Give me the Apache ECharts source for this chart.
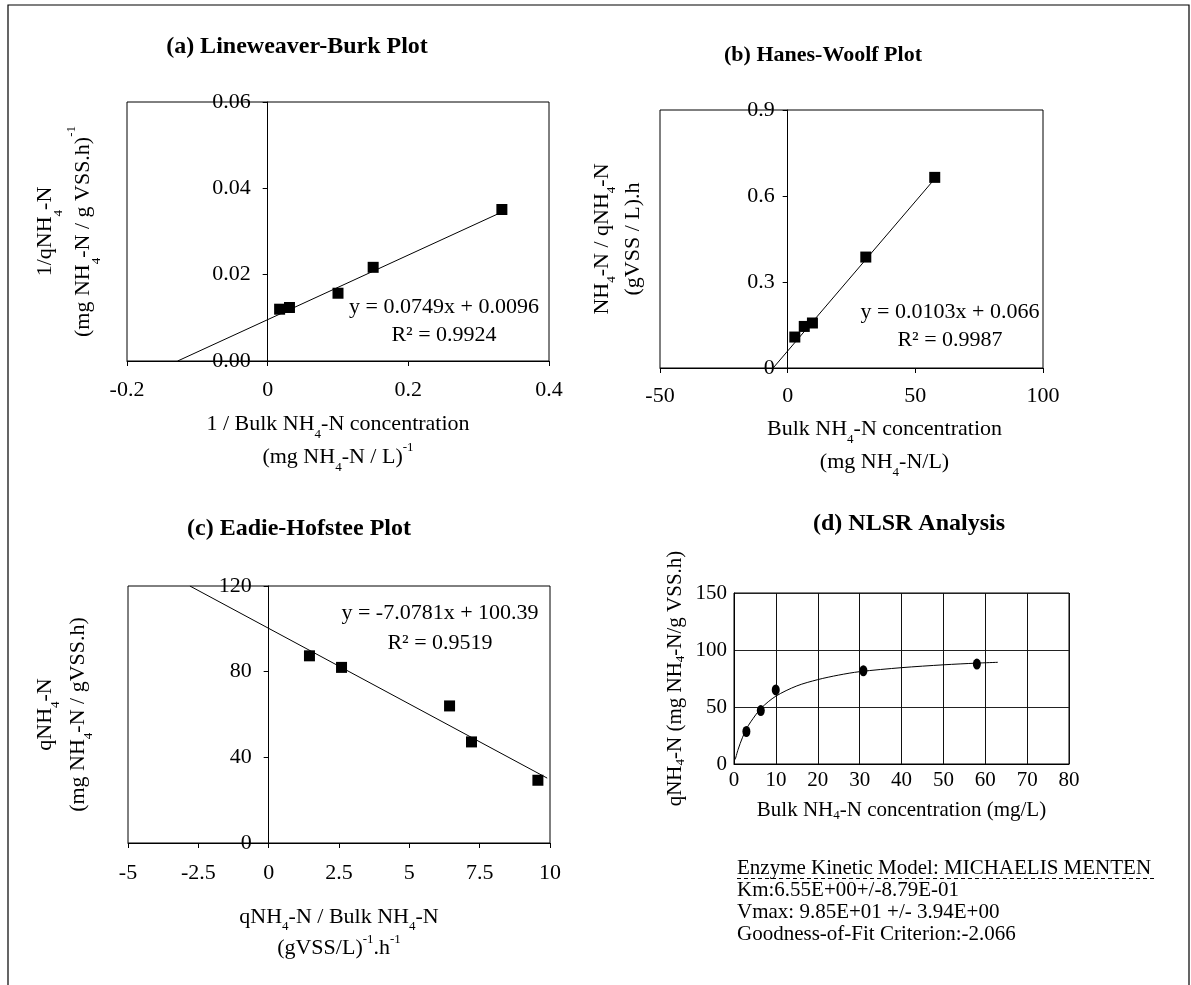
<!DOCTYPE html>
<html><head><meta charset="utf-8">
<script src="https://cdn.jsdelivr.net/npm/echarts@6/dist/echarts.min.js"></script>
<style>html,body{margin:0;padding:0;background:#fff;}#c{width:1191px;height:985px;}</style>
</head><body><div id="c"></div>
<script>
const FONT = "'Liberation Serif', 'Times New Roman', serif";

// (a) Lineweaver-Burk
const lbX = [0.017, 0.031, 0.100, 0.150, 0.333];
const lbY = [0.0120, 0.0124, 0.0157, 0.0217, 0.0351];
const lbFitX = [-0.128, 0.333];
const lbFitY = [0, 0.0345];
const ticksAX = ['-0.2', '0', '0.2', '0.4'];
const ticksAY = ['0.00', '0.02', '0.04', '0.06'];

// (b) Hanes-Woolf
const hwX = [2.8, 6.5, 9.7, 30.6, 57.6];
const hwY = [0.108, 0.145, 0.157, 0.387, 0.665];
const hwFitX = [-5.7, 57.6];
const hwFitY = [0, 0.660];
const ticksBX = ['-50', '0', '50', '100'];
const ticksBY = ['0', '0.3', '0.6', '0.9'];

// (c) Eadie-Hofstee
const ehX = [1.45, 2.59, 6.43, 7.21, 9.57];
const ehY = [87.4, 82.0, 64.0, 47.2, 29.3];
const ehFitX = [-2.8, 9.9];
const ehFitY = [120, 30.3];
const ticksCX = ['-5', '-2.5', '0', '2.5', '5', '7.5', '10'];
const ticksCY = ['0', '40', '80', '120'];

// (d) NLSR
const nlX = [2.96, 6.4, 9.97, 30.9, 58.0];
const nlY = [28.5, 46.9, 65.0, 81.8, 87.7];
const nlCurveX = [0.3, 1, 2, 3, 4, 6.5, 10, 15, 20, 25, 30, 40, 50, 58, 63];
const nlCurveY = [4, 13, 23, 31, 37, 49, 59.5, 68.5, 74, 78, 81, 84.5, 87, 88.5, 89.2];
const ticksDX = ['0', '10', '20', '30', '40', '50', '60', '70', '80'];
const ticksDY = ['0', '50', '100', '150'];

const zip = (a, b) => a.map((v, i) => [v, b[i]]);
const lab = (arr, min, step) => v => { const i = Math.round((v - min) / step); return arr[i] !== undefined ? arr[i] : ''; };
function rt(lh, subOff, supOff) {
  subOff = subOff || 8; supOff = supOff || 7;
  return {
    sub: { fontSize: 13, fontFamily: FONT, color: '#000', lineHeight: lh - 2 * subOff, verticalAlign: 'bottom' },
    sup: { fontSize: 13, fontFamily: FONT, color: '#000', lineHeight: lh - 2 * supOff, verticalAlign: 'top' }
  };
}
const black = { color: '#000', opacity: 1 };

const gridStyle = { show: true, borderColor: '#000', borderWidth: 1, backgroundColor: '#fff', containLabel: false, outerBoundsMode: 'none' };
const grids = [
  Object.assign({ left: 127, top: 102, width: 422, height: 259 }, gridStyle),
  Object.assign({ left: 660, top: 110, width: 383, height: 258 }, gridStyle),
  Object.assign({ left: 128, top: 586, width: 422, height: 257 }, gridStyle),
  Object.assign({ left: 734, top: 593, width: 335, height: 171 }, gridStyle)
];

function axisBase(gi, min, max, interval, ticks, margin, fs) {
  return {
    gridIndex: gi, type: 'value', min: min, max: max, interval: interval,
    axisLine: { show: true, onZero: false, lineStyle: { color: '#000', width: 1 } },
    axisTick: { show: true, length: 5, lineStyle: { color: '#000' } },
    splitLine: { show: false },
    axisLabel: { margin: margin, fontSize: fs, fontFamily: FONT, color: '#000', formatter: lab(ticks, min, interval) },
    nameLocation: 'middle', nameMoveOverlap: false
  };
}
function nameStyle(fs, lh, rich, padding) {
  const s = { fontSize: fs, fontFamily: FONT, color: '#000', lineHeight: lh, rich: rich };
  if (padding) s.padding = padding;
  return s;
}
// y axis crosses the x axis at x = 0
function zeroOffset(gi, xmin, xmax) {
  return -grids[gi].width * (0 - xmin) / (xmax - xmin);
}

const xA = Object.assign(axisBase(0, -0.2, 0.4, 0.2, ticksAX, 18, 22), {
  name: '1 / Bulk NH{sub|4}-N concentration\n(mg NH{sub|4}-N / L){sup|-1}', nameGap: 47,
  nameTextStyle: nameStyle(22, 33, rt(33))
});
const yA = Object.assign(axisBase(0, 0, 0.06, 0.02, ticksAY, 17, 22), {
  offset: zeroOffset(0, -0.2, 0.4),
  name: '1/qNH{sub|4}-N\n(mg NH{sub|4}-N / g VSS.h){sup|-1}', nameRotate: 90, nameGap: 165,
  nameTextStyle: nameStyle(22, 38, rt(38))
});
const xB = Object.assign(axisBase(1, -50, 100, 50, ticksBX, 17, 22), {
  name: 'Bulk NH{sub|4}-N concentration\n(mg NH{sub|4}-N/L)', nameGap: 45,
  nameTextStyle: nameStyle(22, 33, rt(33), [0, 0, 0, 66])
});
const yB = Object.assign(axisBase(1, 0, 0.9, 0.3, ticksBY, 13, 22), {
  offset: zeroOffset(1, -50, 100),
  name: 'NH{sub|4}-N / qNH{sub|4}-N\n(gVSS / L).h', nameRotate: 90, nameGap: 139,
  nameTextStyle: nameStyle(22, 31, rt(31))
});
const xC = Object.assign(axisBase(2, -5, 10, 2.5, ticksCX, 19, 22), {
  name: 'qNH{sub|4}-N / Bulk NH{sub|4}-N\n(gVSS/L){sup|-1}.h{sup|-1}', nameGap: 59,
  nameTextStyle: nameStyle(22, 31, rt(31))
});
const yC = Object.assign(axisBase(2, 0, 120, 40, ticksCY, 17, 22), {
  offset: zeroOffset(2, -5, 10),
  name: 'qNH{sub|4}-N\n(mg NH{sub|4}-N / gVSS.h)', nameRotate: 90, nameGap: 174,
  nameTextStyle: nameStyle(22, 33, rt(33))
});
const xD = Object.assign(axisBase(3, 0, 80, 10, ticksDX, 6, 21), {
  name: 'Bulk NH{sub|4}-N concentration (mg/L)', nameGap: 34,
  nameTextStyle: nameStyle(21, 24, rt(24, 5, 6))
});
xD.axisTick = { show: false };
xD.splitLine = { show: true, lineStyle: { color: '#111', width: 1 } };
const yD = Object.assign(axisBase(3, 0, 150, 50, ticksDY, 7, 21), {
  name: 'qNH{sub|4}-N (mg NH{sub|4}-N/g VSS.h)', nameRotate: 90, nameGap: 47,
  nameTextStyle: nameStyle(21, 24, rt(24, 5, 6))
});
yD.axisTick = { show: false };
yD.splitLine = { show: true, lineStyle: { color: '#222', width: 1 } };

function sq(i, x, y) {
  return { type: 'scatter', xAxisIndex: i, yAxisIndex: i, data: zip(x, y), symbol: 'rect', symbolSize: 11, itemStyle: black, z: 5 };
}
function fit(i, x, y, smooth) {
  return { type: 'line', xAxisIndex: i, yAxisIndex: i, data: zip(x, y), symbol: 'none', smooth: smooth || false,
    lineStyle: { color: '#000', width: 1 }, z: 3 };
}

function txt(x, y, text, size, weight, align) {
  const a = align || 'center';
  return { type: 'text', x: x, y: y, silent: true, z: 10,
    style: { text: text, font: (weight || 'normal') + ' ' + size + 'px ' + FONT, fill: '#000',
      align: a, verticalAlign: 'middle', textAlign: a, textVerticalAlign: 'middle' } };
}

const graphics = [
  { type: 'rect', silent: true, z: 0, shape: { x: 8, y: 5, width: 1181, height: 1010 },
    style: { fill: 'transparent', stroke: '#000', lineWidth: 1.2 } },
  txt(297, 47, '(a) Lineweaver-Burk Plot', 24, 'bold'),
  txt(823, 55, '(b) Hanes-Woolf Plot', 22, 'bold'),
  txt(299, 529, '(c) Eadie-Hofstee Plot', 24, 'bold'),
  txt(909, 524, '(d) NLSR Analysis', 24, 'bold'),
  txt(444, 307, 'y = 0.0749x + 0.0096', 22),
  txt(444, 335, 'R\u00b2 = 0.9924', 22),
  txt(950, 312, 'y = 0.0103x + 0.066', 22),
  txt(950, 340, 'R\u00b2 = 0.9987', 22),
  txt(440, 613, 'y = -7.0781x + 100.39', 22),
  txt(440, 643, 'R\u00b2 = 0.9519', 22),
  txt(737, 868, 'Enzyme Kinetic Model: MICHAELIS MENTEN', 21, 'normal', 'left'),
  txt(737, 890, 'Km:6.55E+00+/-8.79E-01', 21, 'normal', 'left'),
  txt(737, 912, 'Vmax: 9.85E+01 +/- 3.94E+00', 21, 'normal', 'left'),
  txt(737, 934, 'Goodness-of-Fit Criterion:-2.066', 21, 'normal', 'left'),
  { type: 'line', silent: true, z: 10, shape: { x1: 737, y1: 878.5, x2: 1155, y2: 878.5 },
    style: { stroke: '#000', lineWidth: 1, lineDash: [4, 3] } }
];

const option = {
  animation: false,
  backgroundColor: '#fff',
  grid: grids,
  xAxis: [xA, xB, xC, xD],
  yAxis: [yA, yB, yC, yD],
  series: [
    fit(0, lbFitX, lbFitY), sq(0, lbX, lbY),
    fit(1, hwFitX, hwFitY), sq(1, hwX, hwY),
    fit(2, ehFitX, ehFitY), sq(2, ehX, ehY),
    fit(3, nlCurveX, nlCurveY, 0.3),
    { type: 'scatter', xAxisIndex: 3, yAxisIndex: 3, data: zip(nlX, nlY), symbol: 'circle', symbolSize: [8, 11], itemStyle: black, z: 5 }
  ],
  graphic: graphics
};
const chart = echarts.init(document.getElementById('c'), null, { renderer: 'canvas' });
chart.setOption(option);
</script></body></html>
